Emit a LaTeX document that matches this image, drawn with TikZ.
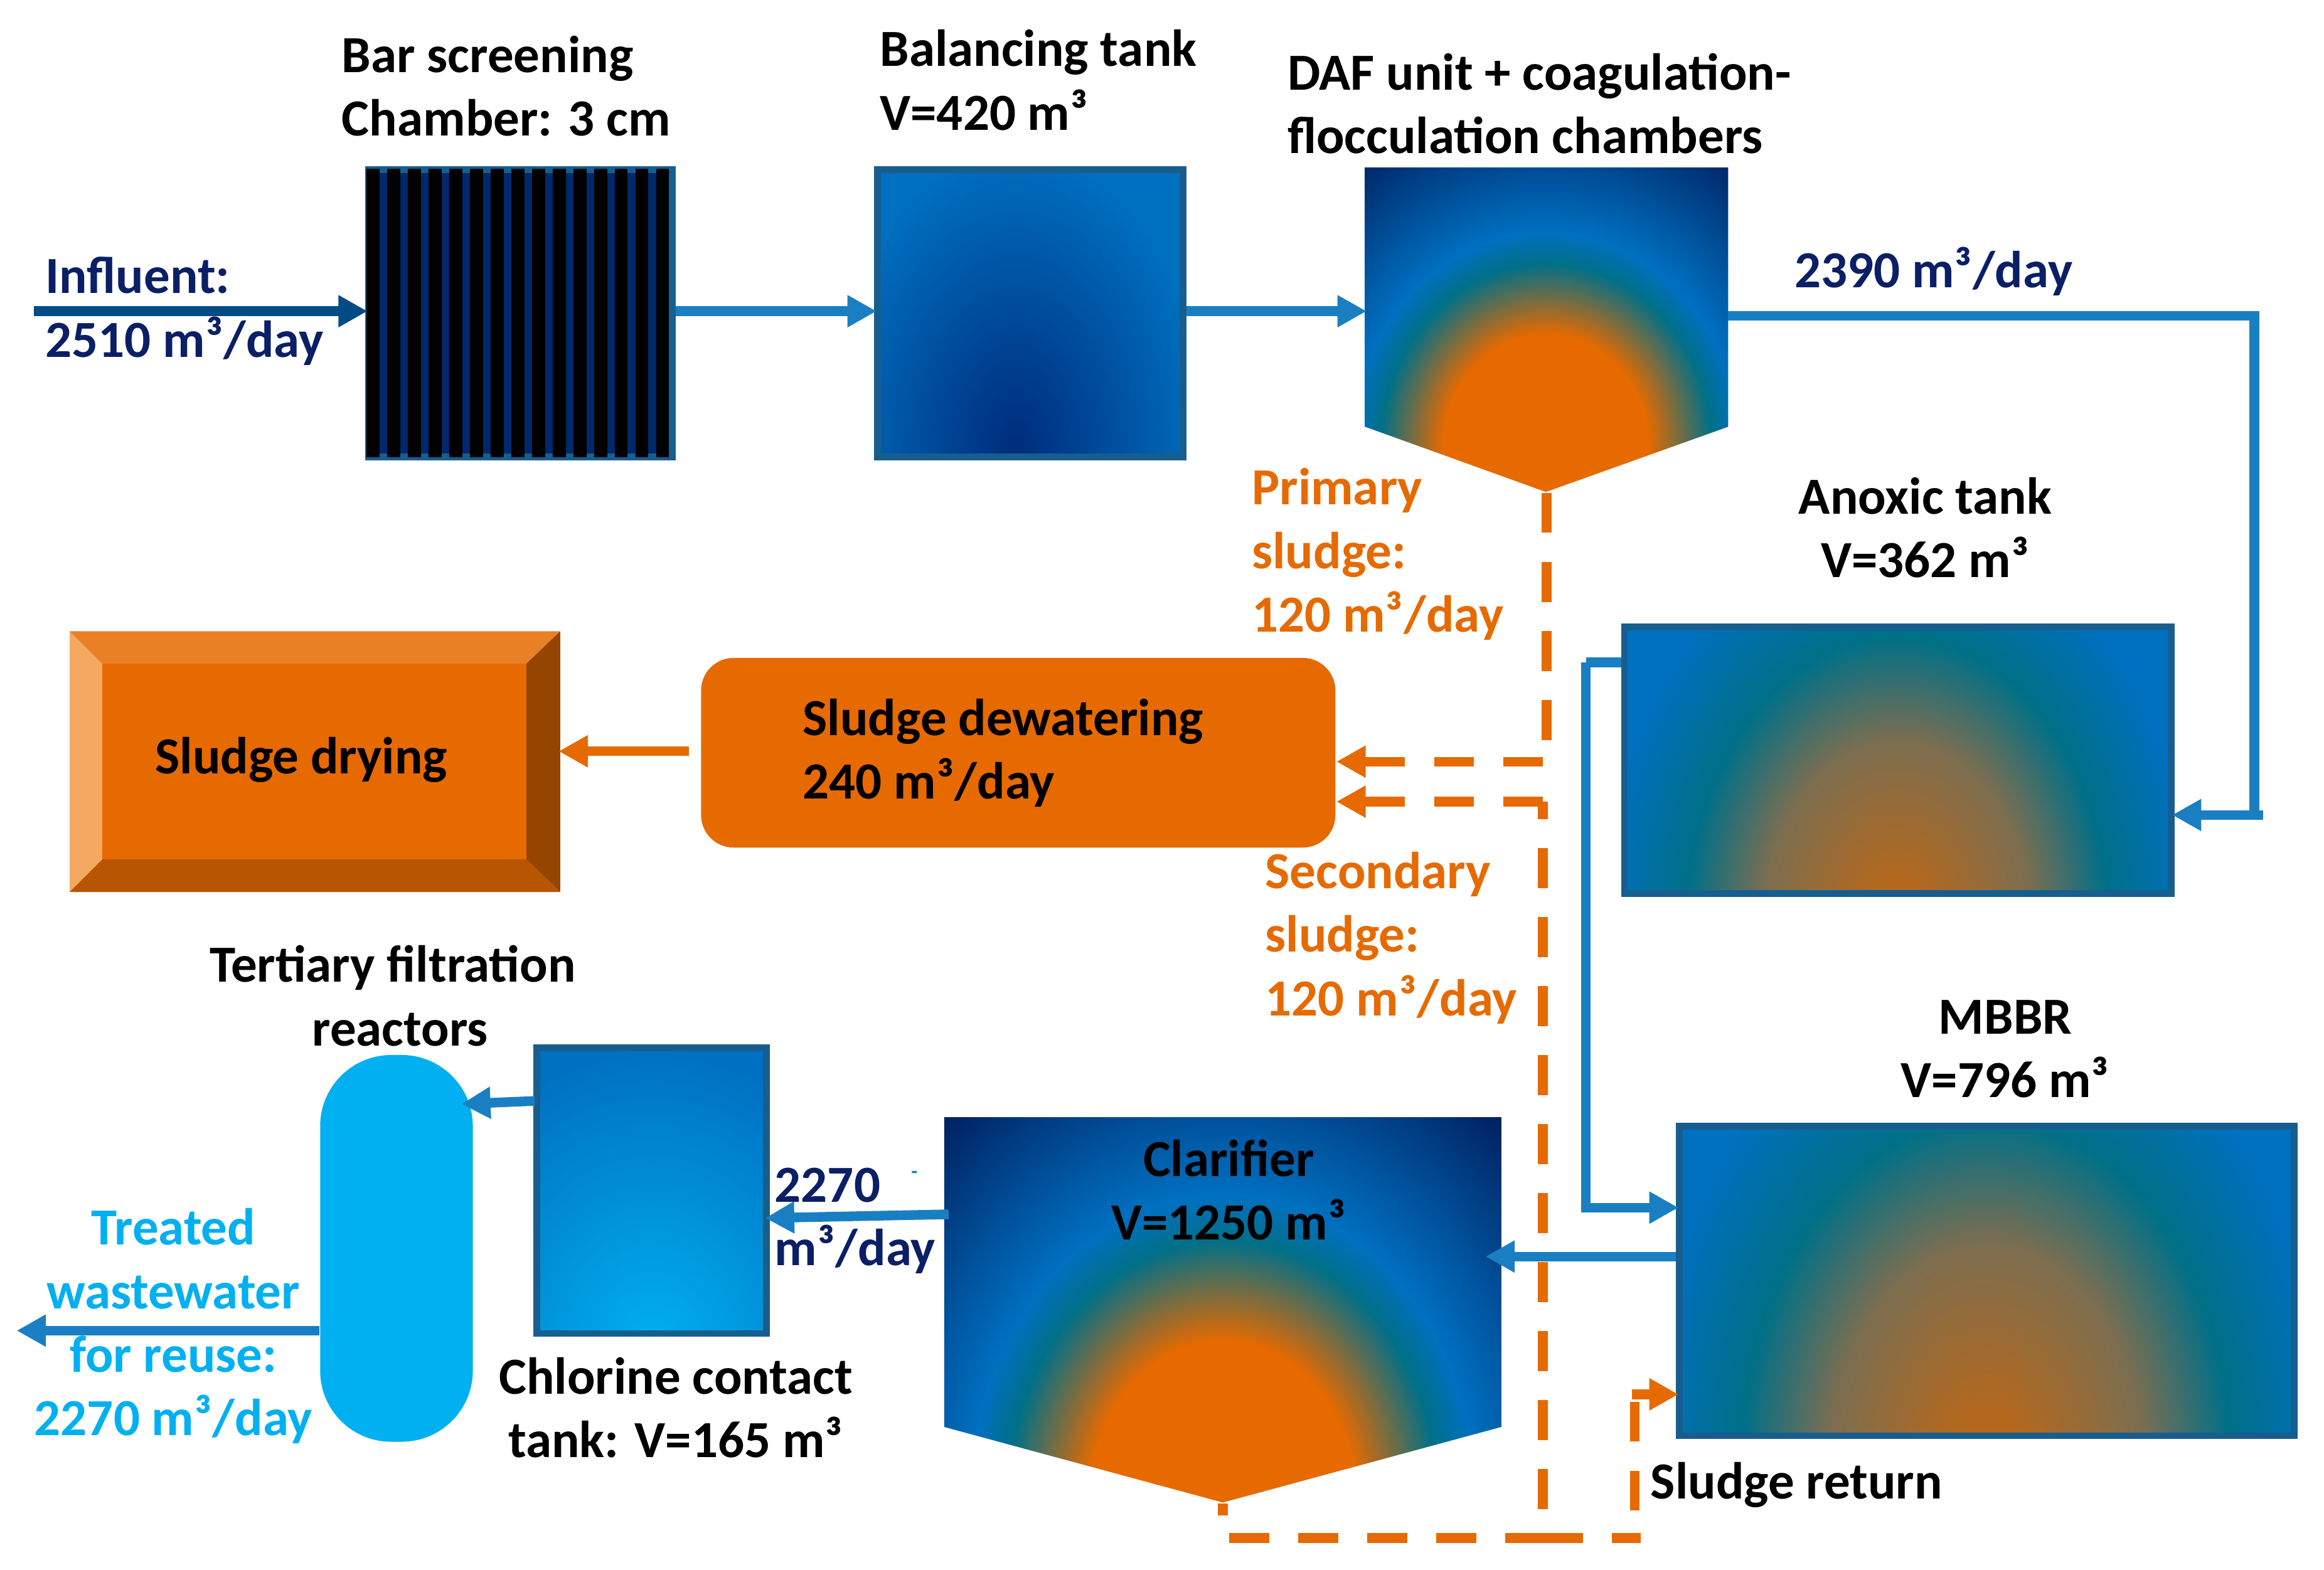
\documentclass[tikz,border=0pt]{standalone}
\usepackage{fontspec}
\setmainfont{Carlito}
\usepackage{xcolor}
\usetikzlibrary{arrows.meta,positioning,calc}
\definecolor{flowblue}{HTML}{1A7FC2}
\definecolor{inblue}{HTML}{004B83}
\definecolor{tankline}{HTML}{175E8F}
\definecolor{sludgeor}{HTML}{E66A00}
\definecolor{navytxt}{HTML}{0A1F66}
\definecolor{skyblue}{HTML}{00B0F0}
\definecolor{tealmid}{HTML}{007088}
\definecolor{midblue}{HTML}{0070C0}
\definecolor{deepnavy}{HTML}{002060}
\definecolor{brownor}{HTML}{B4681E}
\definecolor{greybrown}{HTML}{7C6E50}
\definecolor{bevelleft}{HTML}{F4A860}
\definecolor{baldark}{HTML}{002C7C}
\pgfdeclareradialshading{sludgefill}{\pgfpointorigin}{color(0bp)=(sludgeor); color(7.75bp)=(sludgeor); color(12.5bp)=(tealmid); color(14.6bp)=(midblue); color(24.4bp)=(deepnavy); color(50bp)=(deepnavy)}
\pgfdeclareradialshading{mutedfill}{\pgfpointorigin}{color(0bp)=(brownor); color(2bp)=(brownor); color(8bp)=(greybrown); color(12.5bp)=(tealmid); color(17.5bp)=(midblue); color(50bp)=(midblue)}
\pgfdeclareradialshading{balfill}{\pgfpointorigin}{color(0bp)=(baldark); color(12.5bp)=(midblue); color(50bp)=(midblue)}
\pgfdeclareradialshading{chlorfill}{\pgfpointorigin}{color(0bp)=(skyblue); color(12.5bp)=(midblue); color(50bp)=(midblue)}
\newcommand{\blobfill}[5]{\shade[shading=#1] ({#2-2*#4},{#3-2*#5}) rectangle ({#2+2*#4},{#3+2*#5});}
\tikzset{
  tankbox/.style={draw=tankline, line width=1.3pt, inner sep=0pt},
  outlinebox/.style={inner sep=0pt},
  labeltext/.style={font=\fontsize{10}{12.2}\selectfont\bfseries, inner sep=0pt,
                    align=left, anchor=west},
  flowarrow/.style={-{Triangle[length=5.6pt,width=5.8pt]}, shorten >=-0.5pt, line width=1.85pt, draw=flowblue},
  flowline/.style={line width=1.85pt, draw=flowblue},
  sludgearrow/.style={-{Triangle[length=5.6pt,width=5.8pt]}, shorten >=-0.5pt, line width=1.85pt, draw=sludgeor},
  sludgeline/.style={line width=1.85pt, draw=sludgeor,
                     dash pattern=on 7.65pt off 5.6pt}
}
\def\mcube{m³\kern0.02em}
\begin{document}
\begin{tikzpicture}
    \useasboundingbox (0,0) rectangle (15.68,-10.592);

    % Bar screening
    \node[tankbox, fill=deepnavy!90!midblue, minimum width=2.05cm, minimum height=1.94cm]
      (bar) at (3.51,-2.115) {};
    \foreach \i in {0,...,14}
      \fill[black] ({2.473+0.1396*\i},-1.14) rectangle ({2.56+0.1396*\i},-3.085);

    % Balancing tank
    \begin{scope}
      \clip (5.9,-1.13) rectangle (8.0,-3.1);
      \blobfill{balfill}{6.85}{-3.0}{1.3}{2.0}
    \end{scope}
    \node[tankbox, minimum width=2.06cm, minimum height=1.94cm] (bal) at (6.95,-2.115) {};

    % DAF unit
    \begin{scope}
      \clip (9.21,-1.13) -- (11.66,-1.13) -- (11.66,-2.88) -- (10.43,-3.32) -- (9.21,-2.88) -- cycle;
      \blobfill{sludgefill}{10.43}{-3.03}{1.12}{1.25}
    \end{scope}
    \node[outlinebox, minimum width=2.45cm, minimum height=2.19cm] (daf) at (10.435,-2.225) {};

    % Anoxic tank
    \begin{scope}
      \clip (10.94,-4.21) rectangle (14.67,-6.05);
      \blobfill{mutedfill}{12.8}{-6.25}{1.42}{1.95}
    \end{scope}
    \node[tankbox, minimum width=3.69cm, minimum height=1.80cm] (anoxic) at (12.805,-5.13) {};

    % MBBR
    \begin{scope}
      \clip (11.31,-7.58) rectangle (15.5,-9.71);
      \blobfill{mutedfill}{13.4}{-9.9}{1.65}{2.35}
    \end{scope}
    \node[tankbox, minimum width=4.15cm, minimum height=2.09cm] (mbbr) at (13.405,-8.645) {};

    % Clarifier
    \begin{scope}
      \clip (6.37,-7.54) -- (10.13,-7.54) -- (10.13,-9.63) -- (8.25,-10.14) -- (6.37,-9.63) -- cycle;
      \blobfill{sludgefill}{8.25}{-10.16}{1.46}{1.79}
    \end{scope}
    \node[outlinebox, minimum width=3.76cm, minimum height=2.60cm] (clar) at (8.25,-8.84) {};

    % Chlorine contact tank
    \begin{scope}
      \clip (3.6,-7.05) rectangle (5.19,-9.02);
      \blobfill{chlorfill}{4.4}{-9.1}{1.7}{2.05}
    \end{scope}
    \node[tankbox, minimum width=1.55cm, minimum height=1.93cm] (chlor) at (4.395,-8.035) {};

    % Tertiary filtration
    \node[fill=skyblue, rounded corners=0.48cm, inner sep=0pt, minimum width=1.03cm,
          minimum height=2.61cm] (tert) at (2.675,-8.425) {};

    % Sludge dewatering
    \node[fill=sludgeor, rounded corners=0.22cm, inner sep=0pt, minimum width=4.28cm,
          minimum height=1.28cm] (dewater) at (6.87,-5.08) {};

    % Sludge drying
    \fill[bevelleft] (0.47,-4.26) -- (0.69,-4.48) -- (0.69,-5.80) -- (0.47,-6.02) -- cycle;
    \fill[sludgeor!85!white] (0.47,-4.26) -- (3.78,-4.26) -- (3.55,-4.48) -- (0.69,-4.48) -- cycle;
    \fill[sludgeor!65!black] (3.78,-4.26) -- (3.78,-6.02) -- (3.55,-5.80) -- (3.55,-4.48) -- cycle;
    \fill[sludgeor!80!black] (0.47,-6.02) -- (3.78,-6.02) -- (3.55,-5.80) -- (0.69,-5.80) -- cycle;
    \fill[sludgeor] (0.69,-4.48) rectangle (3.55,-5.80);
    \node[outlinebox, minimum width=3.31cm, minimum height=1.76cm] (dry) at (2.125,-5.14) {};

    % Sludge lines
    \coordinate (upperturn) at (10.41,-5.14);
    \coordinate (lowerturn) at (10.41,-5.41);
    \coordinate (botjoin) at (10.41,-10.38);
    \coordinate (retturn) at (11.03,-10.38);
    \coordinate (retin) at (11.01,-9.41);
    \draw[sludgeline] (daf.south) -- (daf.south |- upperturn);
    \draw[sludgeline, -{Triangle[length=5.6pt,width=5.8pt]}] (upperturn) -- (upperturn -| dewater.east);
    \draw[sludgeline, -{Triangle[length=5.6pt,width=5.8pt]}] (lowerturn) -- (lowerturn -| dewater.east);
    \draw[sludgeline, dash phase=7.65pt] (botjoin) -- (lowerturn);
    \draw[sludgeline, dash phase=5.4pt] (clar.south) -- (clar.south |- botjoin) -- (botjoin);
    \draw[sludgeline] (botjoin) -- ([xshift=0.04cm]retturn);
    \draw[sludgeline, dash phase=7.95pt] (retturn) -- (retturn |- retin);
    \draw[sludgearrow] (retin) -- (retin -| mbbr.west);
    \draw[sludgearrow] (4.65,-5.07) -- (dry.east |- 0,-5.07);

    % Flow lines
    \coordinate (infl) at (0.23,-2.10);
    \coordinate (dafout) at (11.66,-2.13);
    \coordinate (upright) at (15.21,-2.13);
    \coordinate (downright) at (15.21,-5.50);
    \coordinate (anoxicin) at (15.27,-5.50);
    \coordinate (anoxicout) at (10.94,-4.47);
    \coordinate (sideturn) at (10.70,-4.47);
    \coordinate (mbbrin) at (10.70,-8.15);
    \coordinate (clarin) at (10.04,-8.48);
    \coordinate (clarout) at (6.40,-8.195);
    \coordinate (chlorin) at (5.18,-8.22);
    \coordinate (chlorout) at (3.607,-7.43);
    \coordinate (tertin) at (3.13,-7.45);
    \coordinate (reuse) at (0.13,-8.98);
    \draw[-{Triangle[length=5.6pt,width=5.8pt]}, shorten >=-0.5pt, line width=1.85pt, draw=inblue] (infl) -- (infl -| bar.west);
    \draw[flowarrow] (infl -| bar.east) -- (infl -| bal.west);
    \draw[flowarrow] (infl -| bal.east) -- (infl -| daf.west);
    \draw[flowline] (dafout) -- (upright) -- (downright);
    \draw[flowarrow] (anoxicin) -- (anoxicin -| anoxic.east);
    \draw[flowline] (anoxicout) -- (sideturn);
    \draw[flowarrow] (sideturn) -- (mbbrin) -- (mbbrin -| mbbr.west);
    \draw[flowarrow] (clarin -| mbbr.west) -- (clarin);
    \draw[flowarrow] (clarout) -- (chlorin);
    \draw[flowarrow] (chlorout) -- (tertin);
    \draw[flowarrow] (reuse -| tert.west) -- (reuse);

    % Labels
    \node[labeltext] (barlab) at (2.30,-0.58) {Bar screening\\Chamber: 3 cm};
    \node[labeltext] (ballab) at (5.93,-0.54) {Balancing tank\\V=420 \mcube};
    \node[labeltext] (daflab) at (8.68,-0.70) {DAF unit + coagulation-\\flocculation chambers};
    \node[labeltext, text=navytxt] (inlab) at (0.30,-2.10) {Influent:\\2510 \mcube/day};
    \node[labeltext, text=navytxt] (outlab) at (12.10,-1.83) {2390 \mcube/day};
    \node[labeltext, text=sludgeor] (primlab) at (8.44,-3.74) {Primary\\sludge:\\120 \mcube/day};
    \node[labeltext, align=center, anchor=center] (anoxlab) at (12.99,-3.56) {Anoxic tank\\V=362 \mcube};
    \node[labeltext] (dewlab) at (5.41,-5.08) {Sludge dewatering\\240 \mcube/day};
    \node[labeltext] (drylab) at (1.04,-5.13) {Sludge drying};
    \node[labeltext, text=sludgeor] (seclab) at (8.53,-6.33) {Secondary\\sludge:\\120 \mcube/day};
    \node[labeltext, align=center, anchor=center] (mbbrlab) at (13.53,-7.08) {MBBR\\V=796 \mcube};
    \node[labeltext, align=center, anchor=center] (tertlab) at (2.65,-6.72) {Tertiary filtration\\\hspace*{0.1cm}reactors};
    \node[labeltext, align=center, anchor=center] (clarlab) at (8.29,-8.03) {Clarifier\\V=1250 \mcube};
    \node[labeltext, text=navytxt] (clarflow) at (5.22,-8.24) {2270\\\mcube/day};
    \node[font=\fontsize{4}{5}\selectfont\bfseries, text=flowblue, inner sep=0pt] (tick) at (6.17,-7.93) {-};
    \node[labeltext, align=center, anchor=center] (chlorlab) at (4.56,-9.50) {Chlorine contact\\tank: V=165 \mcube};
    \node[labeltext, align=center, anchor=center, text=skyblue] (reuselab) at (1.17,-8.95) {Treated\\wastewater\\for reuse:\\2270 \mcube/day};
    \node[labeltext] (retlab) at (11.13,-10.02) {Sludge return};
\end{tikzpicture}
\end{document}
